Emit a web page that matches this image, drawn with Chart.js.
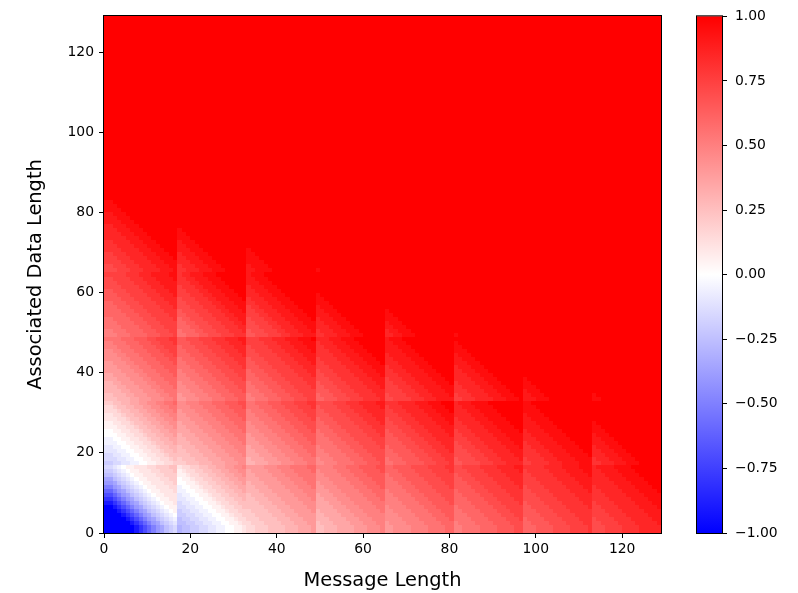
<!DOCTYPE html>
<html>
<head>
<meta charset="utf-8">
<title>Associated data vs message length</title>
<script src="https://cdn.jsdelivr.net/npm/chart.js@4.4.1/dist/chart.umd.min.js"></script>
<style>
  body { margin: 0; background: #fff; }
  #wrap { position: relative; width: 798px; height: 593px; }
  canvas { position: absolute; top: 0; }
</style>
</head>
<body>
<div id="wrap">
  <canvas id="heat" width="798" height="593"></canvas>
  <canvas id="bar" width="118" height="593" style="left:680px"></canvas>
</div>
<script>
// === data ===
const maxLength = 128;                       // lengths 0..128 on both axes
const xTicks = [0, 20, 40, 60, 80, 100, 120];
const yTicks = [0, 20, 40, 60, 80, 100, 120];
const colorTicks = [-1, -0.75, -0.5, -0.25, 0, 0.25, 0.5, 0.75, 1];
const colorMin = -1;
const colorMax = 1;

// one character per cell: 'A' = -1.00, 'U' = 0.00, 'o' = +1.00, steps of 0.05
const LEVELS = 'ABCDEFGHIJKLMNOPQRSTUVWXYZabcdefghijklmno';

// Each string runs along the anti-diagonal of one 16-byte block (x offset + y offset),
// listed for message blocks 0..8 (0 = empty, 1 = 1-16, 2 = 17-32, ...).
// Cells past the end of a string are saturated at +1.
const adBlock0 = ['A', 'AAAAAACEGIKMNPQR', 'OPPQQRRSSTTUUVVW', 'XXYYYZZZZaaabbbc', 'ZZaaabbbbcccddde',
                  'ccddddeeeeffffgg', 'eeffffgggghhhhii', 'ggghhhhiiiijjjjk', 'iiijjjjkkkklllll'];
const adBlock1 = ['AAAAAACEGIKMNPQR', 'AAAAAACEGIKMNPQRSTUVVWWWXXYYYZZ', 'OPPQQRRSSTTUUVVWXXYYZZaabbccdde',
                  'XXYYYZZZZaaabbbccccdddeeeffffgg', 'ZZaaabbbbcccdddeeeefffggghhhhii', 'ccddddeeeeffffggghhhhiiiijjjjkk',
                  'eeffffgggghhhhiiijjjjkkkkllllmm', 'ggghhhhiiiijjjjkkkkkllllmmmmnnn', 'iiijjjjkkkklllllmmmmnnnn'];
const adBlock2 = ['QRRSSTTUUVVWWXXY', 'QRRSSTTUUVVWWXXYZZaabbccddeeffg', 'YYZZZaaabbbcccdddeeefffggghhhii',
                  'aabbbcccdddeeefffggghhhiiijjjkk', 'ddeeeffffggghhhiiiijjjkkkllllmm', 'ffggghhhhiiijjjkkkllllmmmnnn',
                  'hhiiiijjjkkkllllmmmnnnn', 'jjkkkklllmmmmnnnn', 'kklllmmmnnn'];
const adBlock3 = ['ZZaaabbcccdddeef', 'ZZaaabbcccdddeefffggghhhiijjjkk', 'ccdddeeefffggghhhiiijjjkkklllmm',
                  'eefffggghhhiiijjjjkkklllmmmnnn', 'gghhhiiijjjkkkklllmmmnnn', 'iijjjjkkklllmmmmnnn',
                  'jjkkkllllmmmnnn', 'mmmnnn', 'nn'];
const adBlock4 = ['eefffgggghhhiiij', 'eefffgggghhhiiijjjjkkklllmmmmnn', 'ffggghhiiijjjkkkllmmmnnn',
                  'hhiiijjjkklllmmmnnn', 'kklllmmmnnn', 'llmmnnn', 'n', '', ''];
const adBlock5 = ['iijjjkkkllllmmmn', 'iijjjkkkllllmmmnnn', 'kklllmmmnnn', 'mmnnnn', 'n', '', '', '', ''];
const adBlock6 = ['nn', 'nn', '', '', '', '', '', '', ''];
const adBlock7 = ['', '', '', '', '', '', '', '', ''];
const adBlock8 = ['', '', '', '', '', '', '', '', ''];

const adBlocks = [adBlock0, adBlock1, adBlock2, adBlock3, adBlock4, adBlock5, adBlock6, adBlock7, adBlock8];

// === helpers ===
function blockOf(len) { return Math.ceil(len / 16); }
function blockStart(b) { return b === 0 ? 0 : 16 * (b - 1) + 1; }

function cellValue(msg, ad) {
  const bx = blockOf(msg), by = blockOf(ad);
  const diag = adBlocks[by][bx];
  const ch = diag[(msg - blockStart(bx)) + (ad - blockStart(by))];
  return ch === undefined ? colorMax : LEVELS.indexOf(ch) * 0.05 - 1;
}

// matplotlib 'bwr': blue -> white -> red
function bwr(v) {
  const t = Math.max(colorMin, Math.min(colorMax, v));
  if (t < 0) {
    const c = Math.round(255 * (1 + t));
    return `rgb(${c},${c},255)`;
  }
  const c = Math.round(255 * (1 - t));
  return `rgb(255,${c},${c})`;
}

const cells = [];
for (let ad = 0; ad <= maxLength; ad++) {
  for (let msg = 0; msg <= maxLength; msg++) {
    cells.push({ x: msg, y: ad, v: cellValue(msg, ad) });
  }
}

Chart.defaults.font.family = 'DejaVu Sans';
Chart.defaults.color = '#000';

const tickFont = { family: 'DejaVu Sans', size: 13.9 };
const labelFont = { family: 'DejaVu Sans', size: 19.4 };

// draws the cells and the frame (all four spines)
const heatmapCells = {
  id: 'heatmapCells',
  beforeDatasetsDraw(chart) {
    const { ctx, scales: { x, y } } = chart;
    ctx.save();
    for (const p of chart.data.datasets[0].data) {
      const left = Math.round(x.getPixelForValue(p.x));
      const right = Math.round(x.getPixelForValue(p.x + 1));
      const top = Math.round(y.getPixelForValue(p.y + 1));
      const bottom = Math.round(y.getPixelForValue(p.y));
      ctx.fillStyle = bwr(p.v);
      ctx.fillRect(left, top, right - left, bottom - top);
    }
    ctx.restore();
  },
  afterDatasetsDraw(chart) {
    const { ctx, chartArea: a } = chart;
    ctx.save();
    ctx.strokeStyle = '#000';
    ctx.lineWidth = 1;
    ctx.strokeRect(a.left - 0.5, a.top - 0.5, a.right - a.left + 1, a.bottom - a.top + 1);
    ctx.restore();
  }
};

new Chart(document.getElementById('heat'), {
  type: 'scatter',
  data: { datasets: [{ data: cells, pointRadius: 0 }] },
  options: {
    responsive: false,
    animation: false,
    events: [],
    layout: { padding: { left: 0, top: 16, right: 137, bottom: 0 } },
    plugins: { legend: { display: false }, tooltip: { enabled: false } },
    scales: {
      x: {
        type: 'linear',
        min: 0,
        max: maxLength + 1,
        afterBuildTicks: s => { s.ticks = xTicks.map(v => ({ value: v })); },
        afterFit: s => { s.height = 60; },
        grid: { drawOnChartArea: false, tickLength: 5, color: '#000', lineWidth: 1 },
        border: { display: false },
        ticks: { font: tickFont, color: '#000', padding: 3, maxRotation: 0, autoSkip: false },
        title: { display: true, text: 'Message Length', font: labelFont, color: '#000', padding: { top: 0, bottom: 0 } }
      },
      y: {
        type: 'linear',
        min: 0,
        max: maxLength + 1,
        afterBuildTicks: s => { s.ticks = yTicks.map(v => ({ value: v })); },
        afterFit: s => { s.width = 104; },
        grid: { drawOnChartArea: false, tickLength: 5, color: '#000', lineWidth: 1 },
        border: { display: false },
        ticks: { font: tickFont, color: '#000', padding: 5, autoSkip: false },
        title: { display: true, text: 'Associated Data Length', font: labelFont, color: '#000', padding: { top: 24, bottom: 0 } }
      }
    }
  },
  plugins: [heatmapCells]
});

// === colorbar ===
const colorbarFrame = {
  id: 'colorbarFrame',
  afterDatasetsDraw(chart) {
    const { ctx, chartArea: a } = chart;
    ctx.save();
    ctx.strokeStyle = '#000';
    ctx.lineWidth = 1;
    ctx.strokeRect(a.left - 0.5, a.top - 0.5, a.right - a.left + 1, a.bottom - a.top + 1);
    ctx.restore();
  }
};

new Chart(document.getElementById('bar'), {
  type: 'bar',
  data: {
    labels: [''],
    datasets: [{
      data: [[colorMin, colorMax]],
      barPercentage: 1,
      categoryPercentage: 1,
      borderWidth: 0,
      backgroundColor(context) {
        const { ctx, chartArea } = context.chart;
        if (!chartArea) return null;
        const g = ctx.createLinearGradient(0, chartArea.bottom, 0, chartArea.top);
        g.addColorStop(0, bwr(colorMin));
        g.addColorStop(0.5, bwr(0));
        g.addColorStop(1, bwr(colorMax));
        return g;
      }
    }]
  },
  options: {
    responsive: false,
    animation: false,
    events: [],
    layout: { padding: { left: 17, top: 16, right: 0, bottom: 60 } },
    plugins: { legend: { display: false }, tooltip: { enabled: false } },
    scales: {
      x: { display: false },
      y: {
        position: 'right',
        min: colorMin,
        max: colorMax,
        afterBuildTicks: s => { s.ticks = colorTicks.map(v => ({ value: v })); },
        afterFit: s => { s.width = 76; },
        grid: { drawOnChartArea: false, tickLength: 5, color: '#000', lineWidth: 1 },
        border: { display: false },
        ticks: {
          font: tickFont,
          color: '#000',
          padding: 8,
          autoSkip: false,
          callback: v => (v < 0 ? '\u2212' : '') + Math.abs(v).toFixed(2)
        }
      }
    }
  },
  plugins: [colorbarFrame]
});
</script>
</body>
</html>
